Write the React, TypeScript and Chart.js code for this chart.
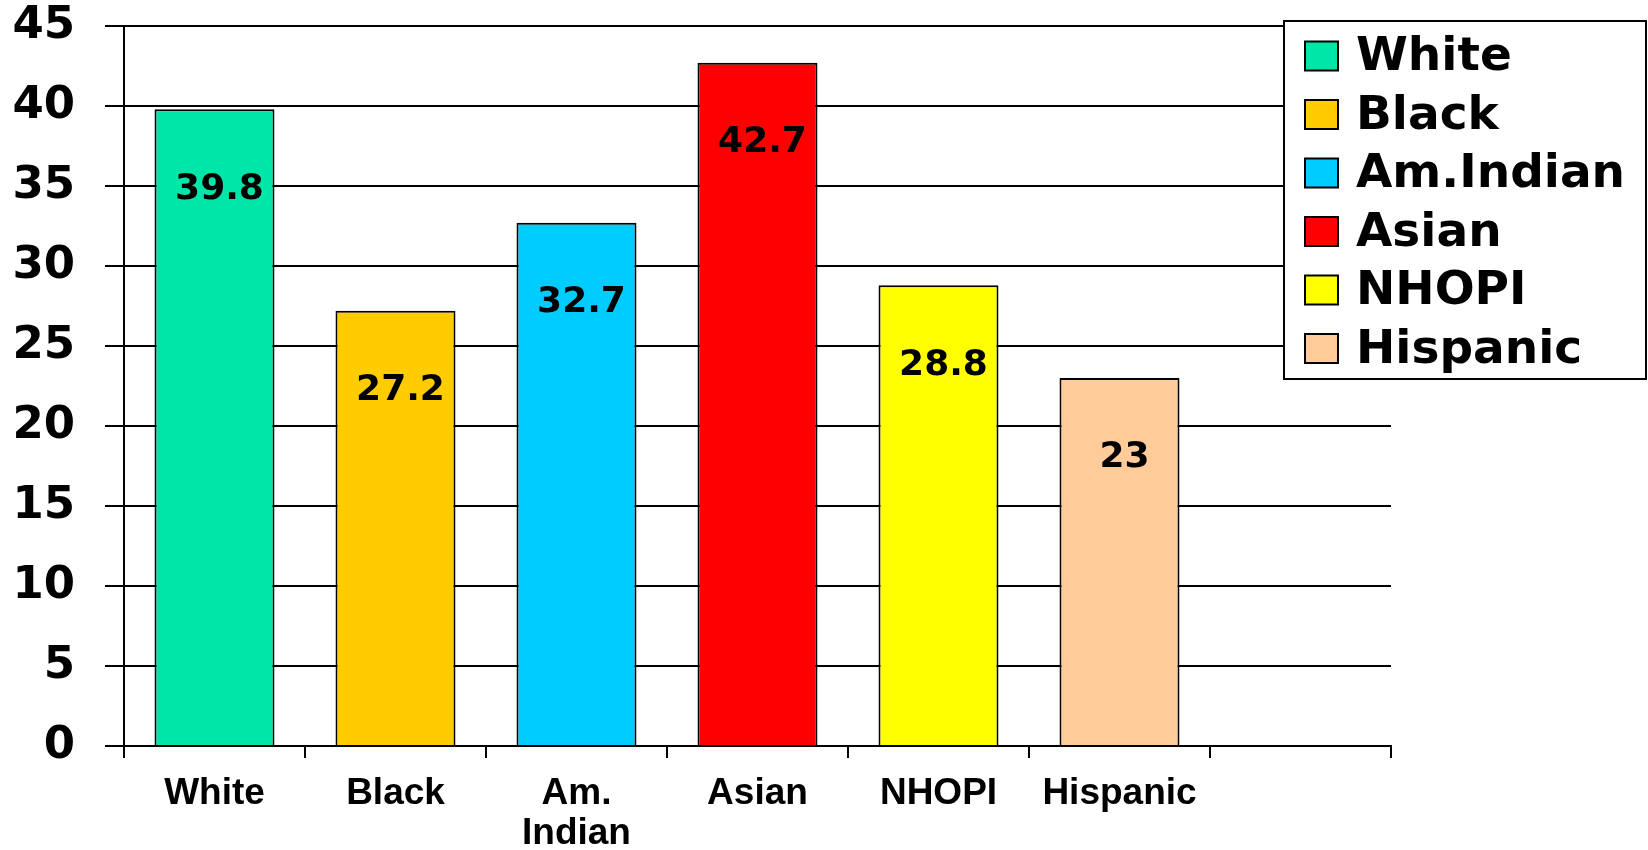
import React, { useEffect, useRef } from 'react';
import { Chart, registerables } from 'chart.js';

Chart.register(...registerables);

const categories: string[][] = [['White'], ['Black'], ['Am.', 'Indian'], ['Asian'], ['NHOPI'], ['Hispanic'], ['']];
const legendLabels = ['White', 'Black', 'Am.Indian', 'Asian', 'NHOPI', 'Hispanic'];
const values: (number | null)[] = [39.8, 27.2, 32.7, 42.7, 28.8, 23, null];
const valueLabels = ['39.8', '27.2', '32.7', '42.7', '28.8', '23'];
const colors = ['#00E6A8', '#FFCC00', '#00CCFF', '#FF0000', '#FFFF00', '#FFCC99'];
const yMin = 0;
const yMax = 45;
const yStep = 5;

const W = 1648;
const H = 850;

const overlayPlugin = {
  id: 'overlay',
  afterDatasetsDraw(chart: any) {
    const ctx = chart.ctx;
    const meta = chart.getDatasetMeta(0);
    ctx.save();
    ctx.fillStyle = '#000';
    ctx.font = 'bold 36px "DejaVu Sans"';
    ctx.textAlign = 'center';
    ctx.textBaseline = 'middle';
    meta.data.forEach((bar: any, i: number) => {
      if (values[i] == null) return;
      ctx.fillText(valueLabels[i], bar.x + 5, bar.y + 80);
    });
    ctx.restore();
  },
  afterDraw(chart: any) {
    const ctx = chart.ctx;
    ctx.save();
    const x0 = 1284, y0 = 21, w = 362, h = 358;
    ctx.fillStyle = '#fff';
    ctx.fillRect(x0, y0, w, h);
    ctx.strokeStyle = '#000';
    ctx.lineWidth = 2;
    ctx.strokeRect(x0, y0, w, h);
    ctx.font = 'bold 47px "DejaVu Sans"';
    ctx.textAlign = 'left';
    ctx.textBaseline = 'middle';
    legendLabels.forEach((t, i) => {
      const cy = 56 + i * 58.5;
      ctx.fillStyle = colors[i];
      ctx.fillRect(1305, cy - 14.5, 33, 29);
      ctx.lineWidth = 2;
      ctx.strokeStyle = '#000';
      ctx.strokeRect(1305, cy - 14.5, 33, 29);
      ctx.fillStyle = '#000';
      ctx.fillText(t, 1356, cy + 2);
    });
    ctx.restore();
  },
};

export default function App() {
  const ref = useRef<HTMLCanvasElement>(null);
  useEffect(() => {
    document.body.style.margin = '0';
    const canvas = ref.current!;
    const chart = new Chart(canvas, {
      type: 'bar',
      data: {
        labels: categories as any,
        datasets: [
          {
            data: values as any,
            backgroundColor: colors,
            borderColor: '#000',
            borderWidth: 2,
            categoryPercentage: 1,
            barPercentage: 0.663,
          },
        ],
      },
      options: {
        animation: false,
        responsive: false,
        devicePixelRatio: 1,
        layout: { padding: { top: 26, right: 257, left: 0, bottom: 0 } },
        plugins: { legend: { display: false }, tooltip: { enabled: false } },
        scales: {
          y: {
            min: yMin,
            max: yMax,
            afterFit(scale: any) {
              scale.width = 124;
              scale.paddingTop = 0;
              scale.paddingBottom = 0;
            },
            ticks: {
              stepSize: yStep,
              color: '#000',
              padding: 30,
              font: { family: '"DejaVu Sans"', weight: 'bold', size: 45 },
            },
            grid: { color: '#000', lineWidth: 2, tickLength: 19 },
            border: { color: '#000', width: 2 },
          },
          x: {
            afterFit(scale: any) { scale.height = 104; },
            ticks: {
              color: '#000',
              padding: 16,
              autoSkip: false,
              maxRotation: 0,
              font: { family: '"Liberation Sans", Arial', weight: 'bold', size: 37, lineHeight: 1.08 },
            },
            grid: { offset: true, drawOnChartArea: false, color: '#000', lineWidth: 2, tickLength: 12 },
            border: { color: '#000', width: 2 },
          },
        },
      },
      plugins: [overlayPlugin],
    });
    return () => chart.destroy();
  }, []);
  return <canvas ref={ref} width={W} height={H} style={{ display: 'block' }} />;
}
